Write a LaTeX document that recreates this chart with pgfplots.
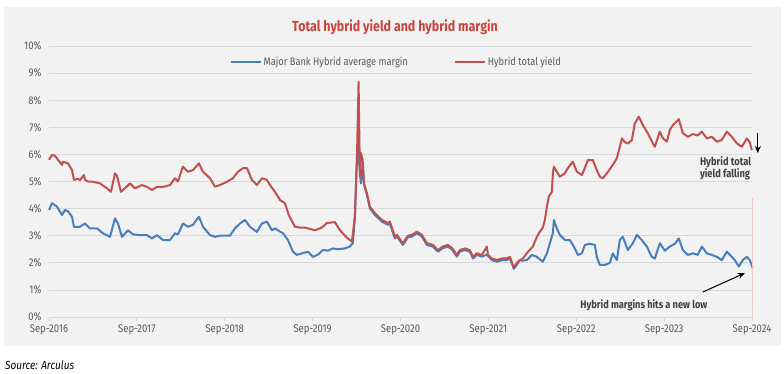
\documentclass[border=0pt]{standalone}
\usepackage{pgfplots}
\pgfplotsset{compat=1.18}
\usetikzlibrary{arrows.meta}
\usepackage{fontspec}
\setmainfont{Fira Sans}[FakeStretch=0.85]
\definecolor{panel}{RGB}{242,242,242}
\definecolor{gridc}{RGB}{217,217,217}
\definecolor{tickc}{RGB}{89,89,89}
\definecolor{annc}{RGB}{64,64,64}
\definecolor{blueln}{RGB}{74,126,187}
\definecolor{redln}{RGB}{192,80,77}
\definecolor{titlec}{RGB}{200,68,60}
\definecolor{pinkln}{RGB}{240,200,200}
\begin{document}
\begin{tikzpicture}
\fill[white] (0,0) rectangle (784pt,373pt);
\fill[panel] (4pt,27pt) rectangle (781pt,366pt);
\node[font=\fontsize{14.6}{16}\selectfont\bfseries, text=titlec] at (395pt,346pt) {Total hybrid yield and hybrid margin};
\node[font=\fontsize{11.8}{13}\selectfont\itshape, text=black, anchor=west, inner sep=0pt] at (5pt,8pt) {Source: Arculus};
\begin{axis}[
  at={(49pt,56pt)}, anchor=south west,
  scale only axis, width=703pt, height=271pt,
  xmin=0, xmax=8, ymin=0, ymax=10,
  clip=false,
  axis line style={draw=none},
  ymajorgrids, grid style={color=gridc, line width=0.8pt},
  ytick={0,1,2,3,4,5,6,7,8,9,10},
  yticklabels={0\%,1\%,2\%,3\%,4\%,5\%,6\%,7\%,8\%,9\%,10\%},
  xtick={0,1,2,3,4,5,6,7,8},
  xticklabels={Sep-2016,Sep-2017,Sep-2018,Sep-2019,Sep-2020,Sep-2021,Sep-2022,Sep-2023,Sep-2024},
  ytick style={draw=none},
  xtick style={color=gridc, line width=0.8pt},
  xtick pos=bottom, tick align=outside, major tick length=4pt,
  tick label style={font=\fontsize{11.2}{13}\selectfont, text=tickc},
  legend style={at={(0.494,0.941)}, anchor=center, draw=none, fill=none,
    legend columns=2, font=\fontsize{10.9}{13}\selectfont, text=tickc,
    /tikz/every even column/.append style={column sep=44pt}},
  legend image code/.code={\draw[#1, line width=2pt] (0pt,0pt) -- (30pt,0pt);},
]
\addplot[blueln, line width=2pt, line join=round] coordinates {
(0,3.95) (0.034,4.20) (0.091,4.07) (0.148,3.76) (0.182,3.95) (0.216,3.90) (0.262,3.70) (0.284,3.33)
(0.353,3.33) (0.410,3.45) (0.466,3.27) (0.546,3.27) (0.614,3.09) (0.694,2.96) (0.751,3.64) (0.785,3.45)
(0.830,2.96) (0.899,3.20) (0.956,3.05) (1.035,3.02) (1.115,3.02) (1.172,2.90) (1.229,3.02) (1.297,2.84)
(1.377,2.84) (1.433,3.09) (1.468,3.05) (1.524,3.45) (1.581,3.33) (1.638,3.40) (1.706,3.70) (1.752,3.33)
(1.832,3.02) (1.889,2.96) (1.945,3.00) (2.059,3.00) (2.116,3.27) (2.173,3.45) (2.230,3.58) (2.287,3.33)
(2.366,3.14) (2.423,3.45) (2.480,3.52) (2.537,3.20) (2.571,3.27) (2.605,3.20) (2.662,3.09) (2.719,2.84)
(2.776,2.41) (2.821,2.29) (2.878,2.35) (2.947,2.41) (3.003,2.22) (3.060,2.30) (3.117,2.47) (3.174,2.45)
(3.231,2.53) (3.288,2.50) (3.367,2.53) (3.424,2.60) (3.458,2.72) (3.481,3.70) (3.504,5.92) (3.515,6.28)
(3.549,4.93) (3.572,5.70) (3.584,4.90) (3.618,4.50) (3.652,4.00) (3.709,3.77) (3.788,3.52) (3.857,3.40)
(3.879,3.45) (3.936,2.90) (3.959,2.97) (4.027,2.66) (4.084,2.94) (4.130,2.97) (4.187,3.09) (4.243,2.97)
(4.300,2.66) (4.369,2.60) (4.425,2.41) (4.482,2.54) (4.539,2.60) (4.585,2.49) (4.642,2.23) (4.676,2.41)
(4.733,2.47) (4.790,2.41) (4.824,2.16) (4.869,2.29) (4.926,2.23) (4.983,2.30) (5.040,2.10) (5.097,2.04)
(5.154,2.10) (5.210,2.10) (5.245,2.16) (5.290,1.78) (5.336,1.98) (5.358,2.10) (5.392,2.08) (5.438,2.10)
(5.495,2.29) (5.552,2.22) (5.620,2.04) (5.666,2.35) (5.700,2.72) (5.734,3.09) (5.745,3.58) (5.779,3.27)
(5.813,3.03) (5.870,2.84) (5.927,2.84) (5.984,2.53) (6.018,2.29) (6.064,2.35) (6.098,2.66) (6.155,2.70)
(6.212,2.66) (6.234,2.22) (6.268,1.92) (6.325,1.92) (6.382,2.00) (6.416,2.35) (6.462,2.10) (6.496,2.84)
(6.530,2.96) (6.587,2.47) (6.644,2.72) (6.689,3.03) (6.746,2.84) (6.803,2.60) (6.860,2.22) (6.894,2.16)
(6.951,2.72) (7.008,2.45) (7.065,2.60) (7.122,2.70) (7.167,2.90) (7.213,2.47) (7.270,2.29) (7.327,2.35)
(7.383,2.29) (7.429,2.60) (7.486,2.35) (7.543,2.29) (7.600,2.22) (7.656,2.10) (7.713,2.41) (7.747,2.30)
(7.804,2.10) (7.850,1.86) (7.895,2.10) (7.941,2.22) (7.975,2.10) (8.009,1.80)
};
\addlegendentry{Major Bank Hybrid average margin}
\addplot[redln, line width=2pt, line join=round] coordinates {
(0,5.80) (0.034,5.98) (0.068,5.95) (0.091,5.85) (0.148,5.61) (0.159,5.73) (0.216,5.67) (0.262,5.42)
(0.284,5.06) (0.330,5.10) (0.353,5.05) (0.398,5.24) (0.410,5.06) (0.444,5.00) (0.501,4.99) (0.580,4.93)
(0.660,4.75) (0.705,4.62) (0.751,5.30) (0.774,5.20) (0.819,4.62) (0.865,4.75) (0.922,4.93) (0.978,4.75)
(1.058,4.87) (1.115,4.80) (1.172,4.69) (1.229,4.80) (1.297,4.80) (1.377,4.87) (1.433,5.12) (1.468,5.00)
(1.524,5.55) (1.581,5.36) (1.638,5.42) (1.706,5.67) (1.752,5.36) (1.832,5.12) (1.889,4.81) (1.945,4.87)
(2.025,4.99) (2.093,5.12) (2.150,5.36) (2.207,5.49) (2.253,5.49) (2.309,5.06) (2.366,4.87) (2.423,5.12)
(2.480,5.06) (2.514,4.87) (2.571,4.62) (2.628,4.32) (2.685,4.20) (2.730,3.75) (2.799,3.33) (2.856,3.30)
(2.912,3.30) (3.026,3.20) (3.106,3.30) (3.163,3.47) (3.254,3.50) (3.311,3.20) (3.390,2.93) (3.447,2.78)
(3.481,3.70) (3.504,5.80) (3.523,8.68) (3.538,5.18) (3.549,6.05) (3.569,5.80) (3.584,4.94) (3.618,4.57)
(3.652,4.07) (3.709,3.83) (3.788,3.58) (3.857,3.47) (3.879,3.52) (3.936,2.96) (3.959,3.03) (4.027,2.72)
(4.084,3.00) (4.130,3.03) (4.187,3.15) (4.243,3.03) (4.300,2.72) (4.369,2.66) (4.425,2.47) (4.482,2.60)
(4.539,2.66) (4.585,2.55) (4.642,2.29) (4.676,2.47) (4.733,2.53) (4.790,2.47) (4.824,2.22) (4.869,2.35)
(4.926,2.29) (4.983,2.60) (4.995,2.29) (5.040,2.16) (5.097,2.10) (5.154,2.16) (5.210,2.16) (5.245,2.22)
(5.290,1.83) (5.336,2.04) (5.392,2.16) (5.449,2.40) (5.506,2.60) (5.552,2.96) (5.586,3.15) (5.620,3.30)
(5.643,3.58) (5.666,4.07) (5.688,4.44) (5.722,4.62) (5.734,5.30) (5.745,5.55) (5.779,5.36) (5.813,5.18)
(5.870,5.30) (5.904,5.49) (5.961,5.73) (6.007,5.36) (6.064,5.24) (6.098,5.50) (6.132,5.79) (6.189,5.79)
(6.234,5.42) (6.268,5.18) (6.303,5.12) (6.359,5.35) (6.416,5.61) (6.462,5.86) (6.496,6.28) (6.519,6.59)
(6.553,6.45) (6.587,6.40) (6.633,6.53) (6.667,7.15) (6.712,7.39) (6.758,7.08) (6.815,6.78) (6.871,6.41)
(6.894,6.28) (6.951,6.84) (6.985,6.60) (7.031,6.47) (7.065,6.90) (7.099,7.08) (7.167,7.30) (7.213,6.78)
(7.270,6.65) (7.327,6.75) (7.383,6.70) (7.429,6.84) (7.486,6.59) (7.543,6.65) (7.600,6.47) (7.656,6.53)
(7.713,6.84) (7.770,6.65) (7.827,6.41) (7.884,6.28) (7.941,6.59) (7.975,6.45) (7.998,6.16)
};
\addlegendentry{Hybrid total yield}
\addplot[pinkln, line width=0.7pt, forget plot] coordinates {(8.003,0) (8.003,4.39)};
\draw[-{Stealth[length=7pt,width=6pt]}, line width=1pt, black] (axis cs:8.066,6.79) -- (axis cs:8.066,6.05);
\draw[-{Stealth[length=7pt,width=6pt]}, line width=1pt, black] (axis cs:7.44,0.92) -- (axis cs:7.918,1.62);
\node[anchor=north west, align=left, font=\fontsize{11}{11.5}\selectfont\bfseries, text=annc, inner sep=0pt] at (axis cs:7.406,5.92) {Hybrid total\\yield falling};
\node[font=\fontsize{10.9}{13}\selectfont\bfseries, text=annc, inner sep=0pt] at (axis cs:6.77,0.44) {Hybrid margins hits a new low};
\end{axis}
\pgfresetboundingbox
\path (0,0) rectangle (784pt,373pt);
\end{tikzpicture}
\end{document}
